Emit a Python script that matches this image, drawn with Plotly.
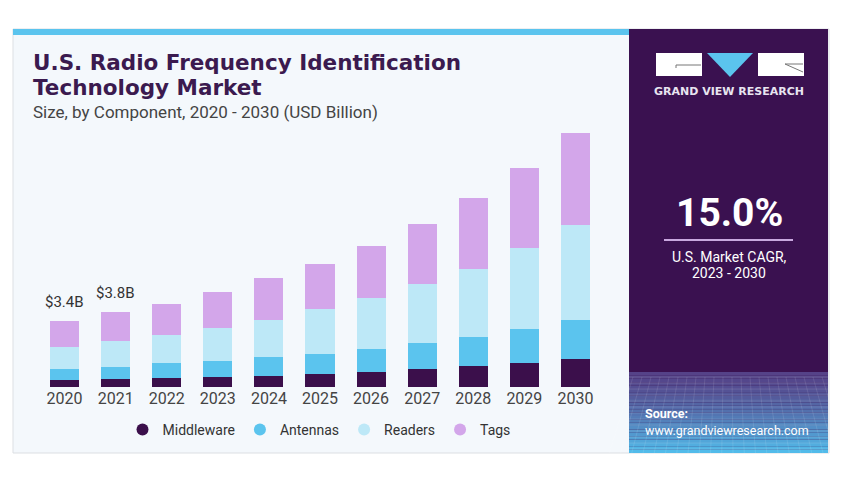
import plotly.graph_objects as go

years = ["2020", "2021", "2022", "2023", "2024", "2025", "2026", "2027", "2028", "2029", "2030"]
middleware = [0.37, 0.43, 0.48, 0.53, 0.59, 0.65, 0.77, 0.94, 1.06, 1.25, 1.46]
antennas = [0.56, 0.60, 0.75, 0.78, 0.94, 1.06, 1.16, 1.31, 1.50, 1.74, 2.00]
readers = [1.14, 1.31, 1.45, 1.71, 1.91, 2.27, 2.63, 3.01, 3.51, 4.13, 4.84]
tags = [1.32, 1.49, 1.59, 1.85, 2.15, 2.34, 2.67, 3.09, 3.62, 4.10, 4.75]
label_years = ["2020", "2021"]
label_texts = ["$3.4B", "$3.8B"]

series = [("Middleware", middleware, "#3B0F4B"),
          ("Antennas", antennas, "#5BC4EE"),
          ("Readers", readers, "#BDE8F7"),
          ("Tags", tags, "#D3A6EA")]

OFF = 8  # page body margin
W, H = 840, 469
ML, MT = 39 - OFF, 114 - OFF
MR = W - (601 - OFF)
MB = H - (387 - OFF)
PW, PH = W - ML - MR, H - MT - MB


def px(x):
    return (x - OFF - ML) / PW


def py(y):
    return 1 - (y - OFF - MT) / PH


fig = go.Figure()
for name, vals, col in series:
    fig.add_trace(go.Bar(x=years, y=vals, name=name, marker=dict(color=col, line=dict(width=0)),
                         showlegend=False, hoverinfo="skip"))
for name, vals, col in series:
    fig.add_trace(go.Scatter(x=[None], y=[None], mode="markers", name=name,
                             marker=dict(color=col, size=12, symbol="circle")))

totals = [sum(v[i] for _, v, _ in series) for i in range(len(years))]
annotations = []
for yr, t in zip(label_years, label_texts):
    i = years.index(yr)
    annotations.append(dict(x=i, y=totals[i], xref="x", yref="y", text=t, showarrow=False,
                            yanchor="bottom", yshift=8, font=dict(size=15, color="#333333", family="Roboto")))

shapes = []
shapes.append(dict(type="rect", xref="paper", yref="paper", x0=px(13), x1=px(829), y0=py(453), y1=py(29),
                   fillcolor="#F4F8FC", line=dict(color="#DCDFE3", width=1), layer="below"))
shapes.append(dict(type="rect", xref="paper", yref="paper", x0=px(13), x1=px(629), y0=py(35), y1=py(29),
                   fillcolor="#5BC4EE", line=dict(width=0), layer="below"))
shapes.append(dict(type="rect", xref="paper", yref="paper", x0=px(629), x1=px(828), y0=py(453), y1=py(29),
                   fillcolor="#3A1150", line=dict(width=0), layer="below"))
c0 = (0x55, 0x42, 0x88)
c1 = (0x52, 0xBB, 0xEA)
y_start, y_end = 372, 453
n = 24
for i in range(n):
    t = (i / (n - 1)) ** 1.3
    c = tuple(int(c0[k] + (c1[k] - c0[k]) * t) for k in range(3))
    ya = y_start + (y_end - y_start) * i / n
    yb = y_start + (y_end - y_start) * (i + 1) / n
    shapes.append(dict(type="rect", xref="paper", yref="paper", x0=px(629), x1=px(828), y0=py(yb), y1=py(ya),
                       fillcolor="rgb(%d,%d,%d)" % c, line=dict(width=0), layer="below"))
for gy in range(377, 453, 6):
    shapes.append(dict(type="line", xref="paper", yref="paper", x0=px(629), x1=px(828), y0=py(gy), y1=py(gy),
                       line=dict(color="rgba(255,255,255,0.12)", width=1), layer="below"))
for gx in range(633, 828, 9):
    shapes.append(dict(type="line", xref="paper", yref="paper", x0=px(gx), x1=px(gx + (gx - 728) * 0.25),
                       y0=py(377), y1=py(453),
                       line=dict(color="rgba(255,255,255,0.10)", width=1), layer="below"))
# logo
shapes.append(dict(type="rect", xref="paper", yref="paper", x0=px(656), x1=px(702), y0=py(76), y1=py(53),
                   fillcolor="white", line=dict(width=0)))
shapes.append(dict(type="path", xref="paper", yref="paper",
                   path="M %f %f L %f %f L %f %f Z" % (px(707), py(53), px(753), py(53), px(730), py(77)),
                   fillcolor="#5BC4EE", line=dict(width=0)))
shapes.append(dict(type="rect", xref="paper", yref="paper", x0=px(758), x1=px(804), y0=py(76), y1=py(53),
                   fillcolor="white", line=dict(width=0)))
shapes.append(dict(type="path", xref="paper", yref="paper",
                   path="M %f %f L %f %f L %f %f" % (px(676), py(68), px(676), py(65), px(701), py(65)),
                   line=dict(color="#777777", width=1)))
shapes.append(dict(type="line", xref="paper", yref="paper", x0=px(785), x1=px(803), y0=py(64), y1=py(64),
                   line=dict(color="#777777", width=1)))
shapes.append(dict(type="line", xref="paper", yref="paper", x0=px(785), x1=px(803), y0=py(64), y1=py(72),
                   line=dict(color="#777777", width=1)))
shapes.append(dict(type="line", xref="paper", yref="paper", x0=px(664), x1=px(793), y0=py(240), y1=py(240),
                   line=dict(color="#C9A8E0", width=2)))


def ann(x, y, text, size, color, bold=False, xanchor="left", family="Roboto"):
    annotations.append(dict(x=px(x), y=py(y), xref="paper", yref="paper", text=("<b>%s</b>" % text) if bold else text,
                            showarrow=False, xanchor=xanchor, yanchor="middle",
                            font=dict(size=size, color=color, family=family)))


ann(31, 62, "U.S. Radio Frequency Identification", 21.5, "#3B1A4F", bold=True, family="DejaVu Sans")
ann(31, 88, "Technology Market", 21.5, "#3B1A4F", bold=True, family="DejaVu Sans")
ann(31, 112, "Size, by Component, 2020 - 2030 (USD Billion)", 17, "#444444")
ann(729, 91, "GRAND VIEW RESEARCH", 11, "#E8E4F0", bold=True, xanchor="center", family="DejaVu Sans")
ann(729, 213, "15.0%", 39, "white", bold=True, xanchor="center")
ann(729, 257, "U.S. Market CAGR,", 14, "white", xanchor="center")
ann(729, 273, "2023 - 2030", 14, "white", xanchor="center")
ann(643, 413, "Source:", 12.5, "white", bold=True)
ann(643, 430, "www.grandviewresearch.com", 12.5, "white")

fig.update_layout(
    width=W, height=H,
    margin=dict(l=ML, r=MR, t=MT, b=MB),
    barmode="stack", bargap=0.43,
    paper_bgcolor="white", plot_bgcolor="rgba(0,0,0,0)",
    xaxis=dict(type="category", range=[-0.5, 10.5], showgrid=False, zeroline=False, showline=False, ticks="",
               tickfont=dict(size=16, color="#444444", family="Roboto"), fixedrange=True),
    yaxis=dict(range=[0, 14], visible=False, fixedrange=True),
    legend=dict(orientation="h", x=px(319), y=py(430), xanchor="center", yanchor="middle",
                font=dict(size=14, color="#333333", family="Roboto"), bgcolor="rgba(0,0,0,0)",
                itemwidth=30, traceorder="normal"),
    shapes=shapes, annotations=annotations,
    showlegend=True,
)
fig.write_html("out.html")
